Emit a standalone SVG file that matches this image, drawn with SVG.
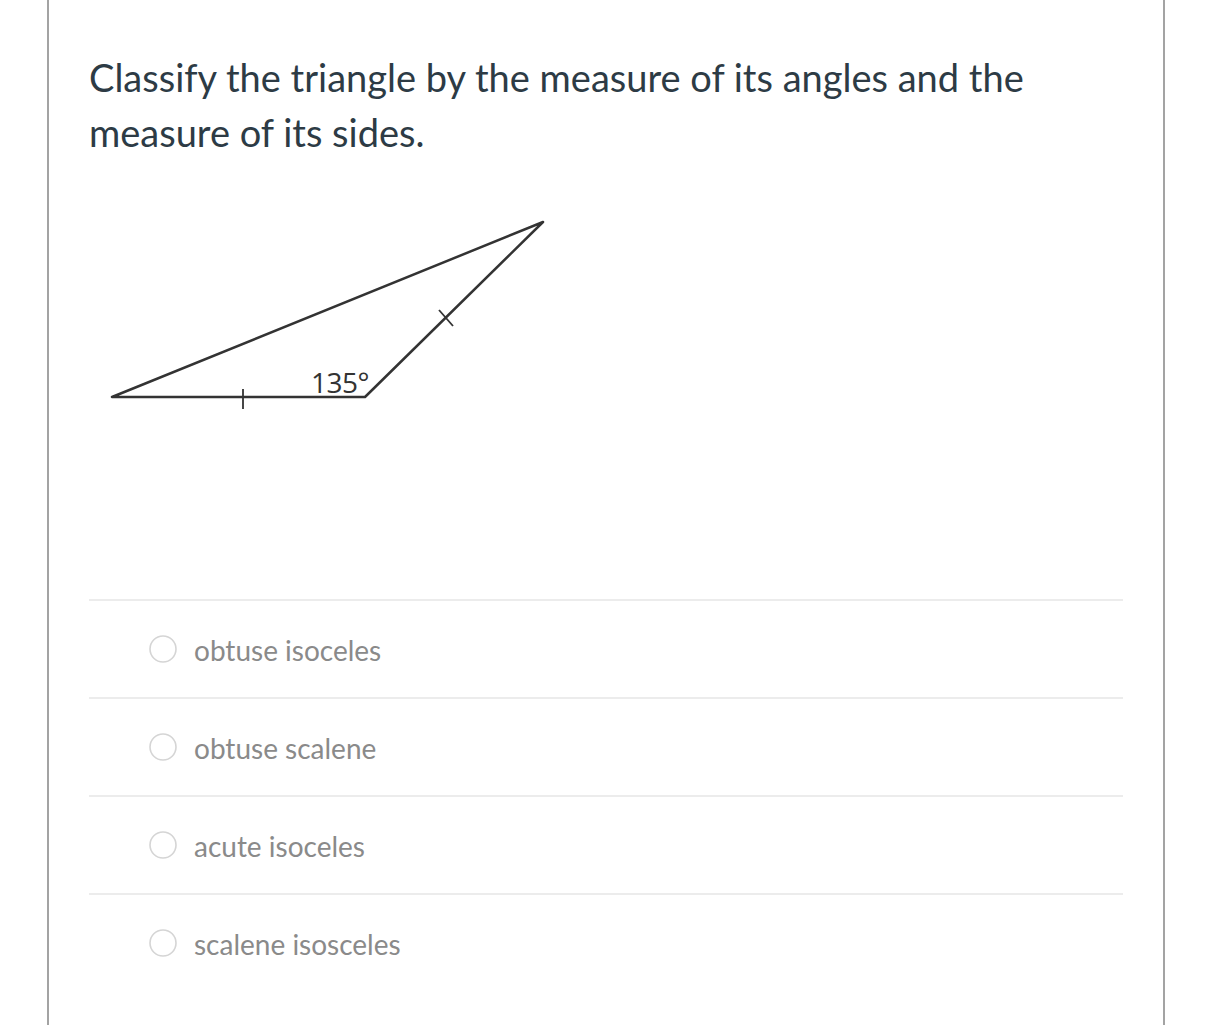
<svg xmlns="http://www.w3.org/2000/svg" width="1209" height="1025" viewBox="0 0 1209 1025">
<style>
.title{font-family:Lato,"Open Sans",sans-serif;font-size:38px;fill:#2d3b45}
.opt{font-family:Lato,"Open Sans",sans-serif;font-size:28px;fill:#8a8a8a}
.sep{stroke:#e6e6e6;stroke-width:1.5}
.radio{fill:#fff;stroke:#d5d5d5;stroke-width:1.6}
.tri{fill:none;stroke:#333;stroke-width:2.5;stroke-linejoin:round}
.tick{stroke:#333;stroke-width:1.8}
</style>
<rect width="1209" height="1025" fill="#fff"/>
<line x1="48" y1="0" x2="48" y2="1025" stroke="#a3a3a3" stroke-width="2"/>
<line x1="1164" y1="0" x2="1164" y2="1025" stroke="#a3a3a3" stroke-width="2"/>
<text class="title" x="89" y="92">Classify the triangle by the measure of its angles and the</text>
<text class="title" x="89" y="147">measure of its sides.</text>
<g id="triangle">
<polygon class="tri" points="112,397 365,397 543,222"/>
<line class="tick" x1="243" y1="389" x2="243" y2="409"/>
<line class="tick" x1="439" y1="310" x2="453" y2="326"/>
<text x="311" y="393" font-family="'Open Sans',sans-serif" font-size="28" font-weight="500" fill="#333" letter-spacing="-0.5">135°</text>
</g>
<g id="separators">
<line class="sep" x1="89" y1="600" x2="1123" y2="600"/>
<line class="sep" x1="89" y1="698" x2="1123" y2="698"/>
<line class="sep" x1="89" y1="796" x2="1123" y2="796"/>
<line class="sep" x1="89" y1="894" x2="1123" y2="894"/>
</g>
<g id="opt1"><circle class="radio" cx="163" cy="649" r="13"/><text class="opt" x="194" y="661">obtuse isoceles</text></g>
<g id="opt2"><circle class="radio" cx="163" cy="747" r="13"/><text class="opt" x="194" y="759">obtuse scalene</text></g>
<g id="opt3"><circle class="radio" cx="163" cy="845" r="13"/><text class="opt" x="194" y="857">acute isoceles</text></g>
<g id="opt4"><circle class="radio" cx="163" cy="943" r="13"/><text class="opt" x="194" y="955">scalene isosceles</text></g>
</svg>
